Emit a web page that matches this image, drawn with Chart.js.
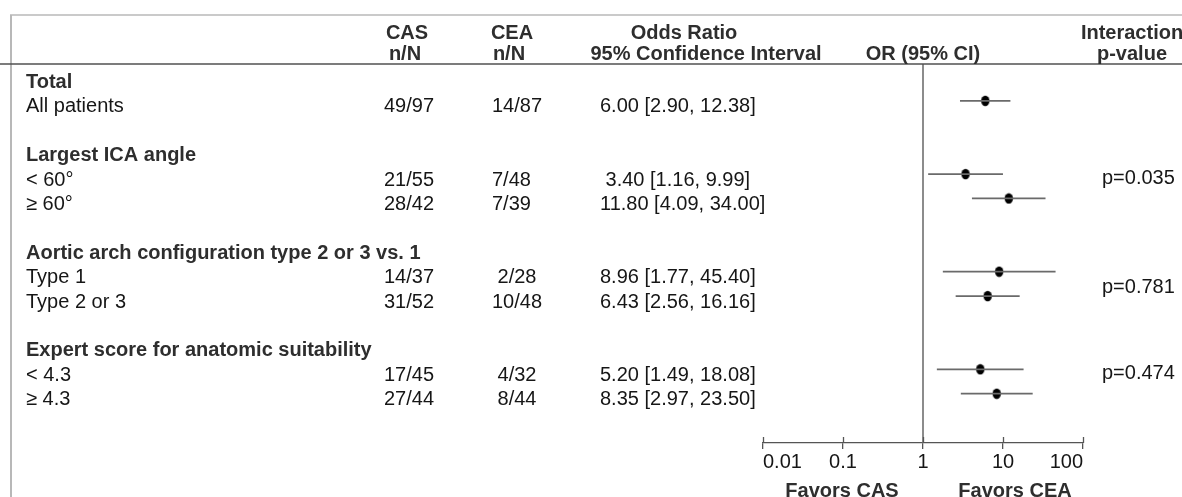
<!DOCTYPE html>
<html>
<head>
<meta charset="utf-8">
<title>Forest plot – CAS vs CEA</title>
<script src="https://cdn.jsdelivr.net/npm/chart.js@4.4.1/dist/chart.umd.min.js"></script>
<style>
  html, body { margin: 0; padding: 0; background: #ffffff; }
  #wrap { width: 1182px; height: 497px; position: relative; }
</style>
</head>
<body>
<div id="wrap"><canvas id="forest" width="1182" height="497"></canvas></div>
<script>
// ---- table rows (one entry per printed line, '' = blank spacer line) ----
const rowLabels = [
  'Total', 'All patients', '',
  'Largest ICA angle', '< 60°', '≥ 60°', '',
  'Aortic arch configuration type 2 or 3 vs. 1', 'Type 1', 'Type 2 or 3', '',
  'Expert score for anatomic suitability', '< 4.3', '≥ 4.3'
];
const headingRows = [0, 3, 7, 11];

const casCounts = ['', '49/97', '', '', '21/55', '28/42', '', '', '14/37', '31/52', '', '', '17/45', '27/44'];
const ceaCounts = ['', '14/87', '', '', '7/48', '7/39', '', '', ' 2/28', '10/48', '', '', ' 4/32', ' 8/44'];

// odds ratios and 95% confidence limits
const oddsRatio = [null, 6.00, null, null, 3.40, 11.80, null, null, 8.96, 6.43, null, null, 5.20, 8.35];
const ciLower   = [null, 2.90, null, null, 1.16, 4.09,  null, null, 1.77, 2.56, null, null, 1.49, 2.97];
const ciUpper   = [null, 12.38, null, null, 9.99, 34.00, null, null, 45.40, 16.16, null, null, 18.08, 23.50];

// interaction tests: text and the row it is printed on
const interactionP    = ['p=0.035', 'p=0.781', 'p=0.474'];
const interactionRows = [4, 8.5, 12];

// log axis ticks
const tickValues = [0.01, 0.1, 1, 10, 100];
const tickLabels = ['0.01', '0.1', '1', '10', '100'];

// ---- styling ----
const FONT = "'Liberation Sans', Arial, Helvetica, sans-serif";
const FS = 20;
const TEXT_DARK = '#161616';
const TEXT_HEAD = '#2e2e2e';
const LINE_GREY = '#6a6a6a';

// filled ellipse used as the point estimate marker
function makeDot() {
  const c = document.createElement('canvas');
  c.width = 10; c.height = 12;
  const g = c.getContext('2d');
  g.fillStyle = '#000';
  g.beginPath();
  g.ellipse(5, 6, 4.2, 5.2, 0, 0, Math.PI * 2);
  g.fill();
  return c;
}
const dotImage = makeDot();

const ciDatasets = [];
const dotData = [];
oddsRatio.forEach((or, r) => {
  if (or === null) return;
  ciDatasets.push({
    type: 'scatter',
    data: [{ x: ciLower[r], y: r }, { x: ciUpper[r], y: r }],
    showLine: true,
    borderColor: LINE_GREY,
    borderWidth: 1.8,
    pointRadius: 0,
    clip: false
  });
  dotData.push({ x: or, y: r });
});

function orText(r) {
  const s = oddsRatio[r].toFixed(2) + ' [' + ciLower[r].toFixed(2) + ', ' + ciUpper[r].toFixed(2) + ']';
  return s.padStart(18, ' ');
}

// table text, frame lines and extra axis tick halves
const tablePlugin = {
  id: 'forestTable',
  afterDraw(chart) {
    const ctx = chart.ctx;
    const xs = chart.scales.x, ys = chart.scales.y;
    const area = chart.chartArea;
    const W = chart.width, H = chart.height;
    const rowY = r => ys.getPixelForValue(r) + 6;

    ctx.save();
    // outer frame (top and left)
    ctx.strokeStyle = '#b8b8b8';
    ctx.lineWidth = 1.6;
    ctx.beginPath();
    ctx.moveTo(10, 15); ctx.lineTo(W, 15);
    ctx.stroke();
    ctx.lineWidth = 2;
    ctx.beginPath();
    ctx.moveTo(11, 15); ctx.lineTo(11, H);
    ctx.stroke();

    // header rule
    ctx.strokeStyle = '#505050';
    ctx.lineWidth = 1.5;
    ctx.beginPath();
    ctx.moveTo(0, area.top); ctx.lineTo(W, area.top);
    ctx.stroke();

    // upper halves of the axis tick marks
    ctx.strokeStyle = '#555';
    ctx.lineWidth = 1.3;
    tickValues.forEach(v => {
      const px = Math.round(xs.getPixelForValue(v)) + 0.5;
      ctx.beginPath();
      ctx.moveTo(px, area.bottom - 6); ctx.lineTo(px, area.bottom);
      ctx.stroke();
    });

    ctx.textBaseline = 'middle';

    // column headers
    ctx.fillStyle = TEXT_HEAD;
    ctx.font = 'bold ' + FS + 'px ' + FONT;
    ctx.textAlign = 'center';
    const h1 = 33, h2 = 54;
    ctx.fillText('CAS', 407, h1);
    ctx.fillText('n/N', 405, h2);
    ctx.fillText('CEA', 512, h1);
    ctx.fillText('n/N', 509, h2);
    ctx.fillText('Odds Ratio', 684, h1);
    ctx.fillText('95% Confidence Interval', 706, h2);
    ctx.fillText('OR (95% CI)', xs.getPixelForValue(1), h2);
    ctx.fillText('Interaction', 1132, h1);
    ctx.fillText('p-value', 1132, h2);

    // row labels
    ctx.textAlign = 'left';
    rowLabels.forEach((lab, r) => {
      if (!lab) return;
      const bold = headingRows.includes(r);
      ctx.font = (bold ? 'bold ' : '') + FS + 'px ' + FONT;
      ctx.fillStyle = bold ? TEXT_HEAD : TEXT_DARK;
      ctx.fillText(lab, 26, rowY(r));
    });

    // counts and odds ratio text
    ctx.font = FS + 'px ' + FONT;
    ctx.fillStyle = TEXT_DARK;
    rowLabels.forEach((lab, r) => {
      if (casCounts[r]) ctx.fillText(casCounts[r], 384, rowY(r));
      if (ceaCounts[r]) ctx.fillText(ceaCounts[r], 492, rowY(r));
      if (oddsRatio[r] !== null) ctx.fillText(orText(r), 600, rowY(r));
    });

    // interaction p-values
    interactionP.forEach((p, i) => {
      ctx.fillText(p, 1102, rowY(interactionRows[i]) - 2);
    });

    // favours labels under the axis
    ctx.font = 'bold ' + FS + 'px ' + FONT;
    ctx.fillStyle = TEXT_HEAD;
    ctx.textAlign = 'center';
    const one = xs.getPixelForValue(1);
    ctx.fillText('Favors CAS', one - 81, 491);
    ctx.fillText('Favors CEA', one + 92, 491);
    ctx.restore();
  }
};

new Chart(document.getElementById('forest'), {
  type: 'scatter',
  data: {
    datasets: [
      {
        // line of no effect at OR = 1
        type: 'scatter',
        data: [{ x: 1, y: -0.51 }, { x: 1, y: 15.02 }],
        showLine: true,
        borderColor: '#707070',
        borderWidth: 1.6,
        pointRadius: 0,
        clip: false
      },
      ...ciDatasets,
      {
        type: 'scatter',
        data: dotData,
        pointStyle: dotImage,
        pointRadius: 5,
        clip: false
      }
    ]
  },
  options: {
    responsive: false,
    animation: false,
    devicePixelRatio: 1,
    events: [],
    layout: { padding: { left: 763, right: 99, top: 64, bottom: 0 } },
    plugins: { legend: { display: false }, tooltip: { enabled: false } },
    scales: {
      x: {
        type: 'logarithmic',
        position: 'bottom',
        min: 0.01,
        max: 100,
        afterBuildTicks: s => { s.ticks = tickValues.map(v => ({ value: v })); },
        afterFit: s => { s.height = 54; },
        grid: { drawOnChartArea: false, drawTicks: true, tickLength: 6, color: '#555', lineWidth: 1.3 },
        border: { display: true, color: '#555', width: 1.3 },
        ticks: {
          callback: (v, i) => tickLabels[i],
          align: 'inner',
          padding: 1,
          autoSkip: false,
          maxRotation: 0,
          color: TEXT_DARK,
          font: { family: FONT, size: FS }
        }
      },
      y: {
        type: 'linear',
        display: false,
        reverse: true,
        min: -0.51,
        max: 15.02
      }
    }
  },
  plugins: [tablePlugin]
});
</script>
</body>
</html>
